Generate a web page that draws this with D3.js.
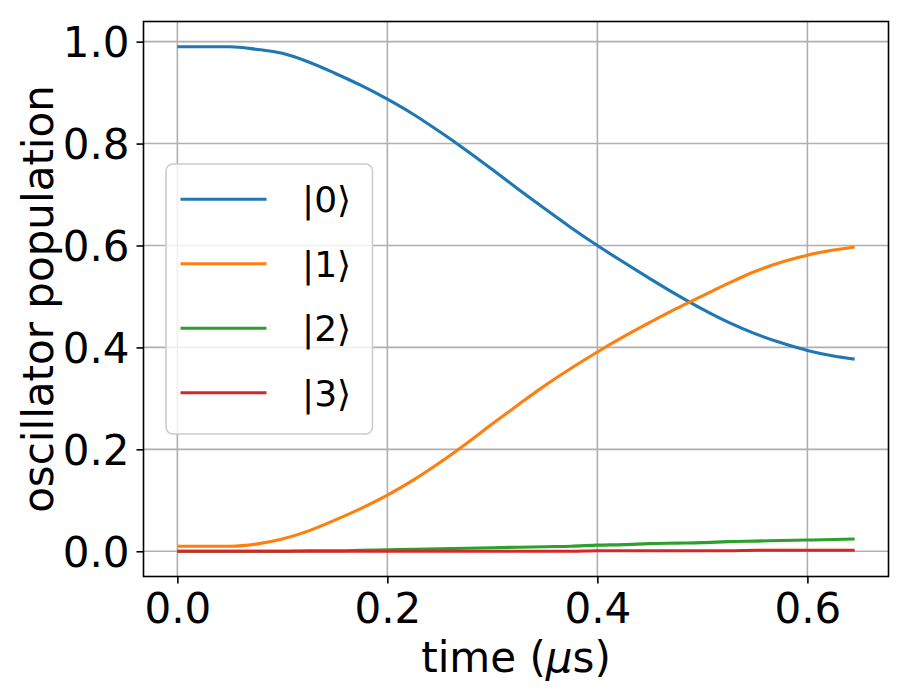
<!DOCTYPE html>
<html>
<head>
<meta charset="utf-8">
<script src="https://cdn.jsdelivr.net/npm/d3@7"></script>
<style>
  html, body { margin: 0; padding: 0; background: #ffffff; }
  svg { display: block; font-family: "DejaVu Sans", sans-serif; }
</style>
</head>
<body>
<svg id="chart" width="911" height="699"></svg>
<script>
// ---- data ----
const time = [0, 0.025, 0.05, 0.075, 0.1, 0.125, 0.15, 0.175, 0.2, 0.225, 0.25, 0.275, 0.3,
  0.325, 0.35, 0.375, 0.4, 0.425, 0.45, 0.475, 0.5, 0.525, 0.55, 0.575, 0.6, 0.625, 0.645];
const pop0 = [0.990, 0.990, 0.990, 0.985, 0.977, 0.960, 0.938, 0.914, 0.887, 0.857, 0.823, 0.787, 0.749,
  0.710, 0.672, 0.635, 0.600, 0.567, 0.535, 0.504, 0.475, 0.449, 0.427, 0.409, 0.394, 0.383, 0.377];
const pop1 = [0.010, 0.010, 0.010, 0.014, 0.024, 0.040, 0.061, 0.084, 0.110, 0.140, 0.174, 0.211, 0.250,
  0.288, 0.325, 0.359, 0.391, 0.421, 0.449, 0.476, 0.501, 0.526, 0.549, 0.567, 0.581, 0.591, 0.597];
const pop2 = [0.000, 0.000, 0.000, 0.000, 0.000, 0.001, 0.001, 0.002, 0.003, 0.004, 0.005, 0.006, 0.007,
  0.008, 0.009, 0.010, 0.012, 0.013, 0.015, 0.016, 0.017, 0.019, 0.020, 0.021, 0.022, 0.023, 0.024];
const pop3 = [0.000, 0.000, 0.000, 0.000, 0.000, 0.000, 0.000, 0.000, 0.000, 0.000, 0.000, 0.000, 0.000,
  0.000, 0.000, 0.000, 0.001, 0.001, 0.001, 0.001, 0.001, 0.001, 0.002, 0.002, 0.002, 0.002, 0.002];
const seriesLabels = ["|0\u27E9", "|1\u27E9", "|2\u27E9", "|3\u27E9"];
const seriesColors = ["#1f77b4", "#ff7f0e", "#2ca02c", "#d62728"];
const xTicks = [0.0, 0.2, 0.4, 0.6];
const yTicks = [0.0, 0.2, 0.4, 0.6, 0.8, 1.0];

// ---- layout ----
const svg = d3.select("#chart");
const L = 143.5, R = 888.5, T = 21.5, B = 576.5;
const x = d3.scaleLinear().domain([-0.03225, 0.67725]).range([L, R]);
const y = d3.scaleLinear().domain([-0.0495, 1.0395]).range([B, T]);
const tickFont = 42, labelFont = 42, legendFont = 36;

// grid
const grid = svg.append("g");
grid.selectAll("line.gx").data(xTicks).enter().append("line")
  .attr("x1", d => x(d)).attr("x2", d => x(d)).attr("y1", T).attr("y2", B)
  .attr("stroke", "#b0b0b0").attr("stroke-width", 1.6);
grid.selectAll("line.gy").data(yTicks).enter().append("line")
  .attr("y1", d => y(d)).attr("y2", d => y(d)).attr("x1", L).attr("x2", R)
  .attr("stroke", "#b0b0b0").attr("stroke-width", 1.6);

// lines
const series = [pop0, pop1, pop2, pop3];
const line = d3.line().x((d, i) => x(time[i])).y(d => y(d)).curve(d3.curveMonotoneX);
svg.append("clipPath").attr("id", "clip").append("rect")
  .attr("x", L).attr("y", T).attr("width", R - L).attr("height", B - T);
svg.append("g").attr("clip-path", "url(#clip)")
  .selectAll("path").data(series).enter().append("path")
  .attr("d", d => line(d))
  .attr("fill", "none")
  .attr("stroke", (d, i) => seriesColors[i])
  .attr("stroke-width", 3.1)
  .attr("stroke-linecap", "butt")
  .attr("stroke-linejoin", "round");

// axes
const xAxis = d3.axisBottom(x).tickValues(xTicks).tickFormat(d3.format(".1f")).tickSize(7).tickPadding(7);
const yAxis = d3.axisLeft(y).tickValues(yTicks).tickFormat(d3.format(".1f")).tickSize(7).tickPadding(7);
const gx = svg.append("g").attr("transform", `translate(0,${B})`).call(xAxis);
const gy = svg.append("g").attr("transform", `translate(${L},0)`).call(yAxis);
[gx, gy].forEach(g => {
  g.select(".domain").remove();
  g.selectAll(".tick line").attr("stroke", "#000").attr("stroke-width", 1.6);
  g.selectAll(".tick text").attr("fill", "#000").attr("font-size", tickFont)
    .attr("font-family", "DejaVu Sans");
});
gx.selectAll(".tick text").attr("dy", null).attr("y", 0)
  .attr("transform", "translate(0,46)");
gy.selectAll(".tick text").attr("dy", "0.36em");

// spines
svg.append("rect").attr("x", L).attr("y", T).attr("width", R - L).attr("height", B - T)
  .attr("fill", "none").attr("stroke", "#000").attr("stroke-width", 1.6);

// axis labels
const xl = svg.append("text").attr("x", (L + R) / 2).attr("y", 672)
  .attr("text-anchor", "middle").attr("font-size", labelFont).attr("fill", "#000");
xl.append("tspan").text("time (");
xl.append("tspan").attr("font-style", "italic").text("\u03BC");
xl.append("tspan").text("s)");

svg.append("text").attr("transform", `translate(53,${(T + B) / 2}) rotate(-90)`)
  .attr("text-anchor", "middle").attr("font-size", labelFont).attr("fill", "#000")
  .text("oscillator population");

// legend
const lg = svg.append("g");
lg.append("rect").attr("x", 166).attr("y", 164).attr("width", 206.5).attr("height", 270)
  .attr("rx", 7).attr("fill", "#fff").attr("fill-opacity", 0.8)
  .attr("stroke", "#cccccc").attr("stroke-width", 1.6);
const items = lg.selectAll("g.item").data(seriesLabels).enter().append("g")
  .attr("transform", (d, i) => `translate(0,${199.3 + i * 64.5})`);
items.append("line").attr("x1", 180.5).attr("x2", 266.5).attr("y1", 0).attr("y2", 0)
  .attr("stroke", (d, i) => seriesColors[i]).attr("stroke-width", 3.1);
items.append("text").attr("x", 302).attr("y", 13).attr("font-size", legendFont)
  .attr("fill", "#000").text(d => d);
</script>
</body>
</html>
